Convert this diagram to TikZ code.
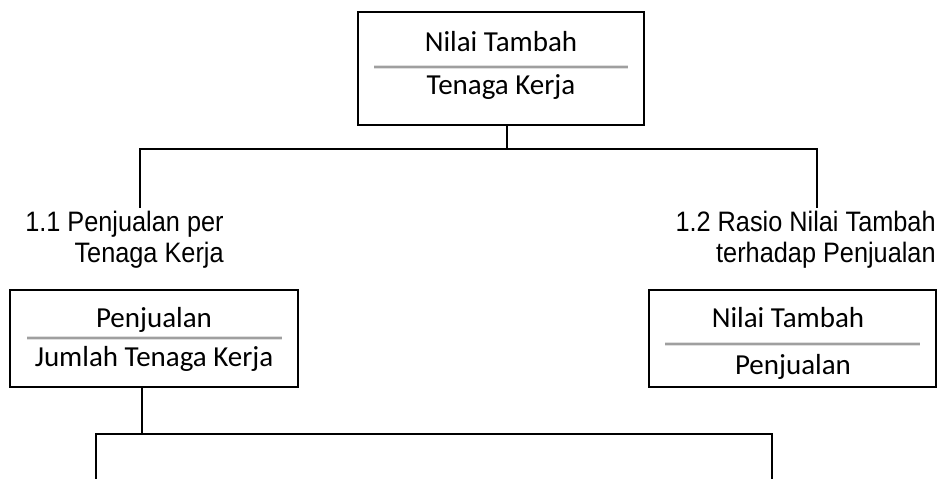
\documentclass[tikz,border=0pt]{standalone}
\usepackage{fontspec}
\newfontfamily\boxfont{Carlito}
\newfontfamily\lblfont[FakeStretch=0.9]{Liberation Sans}

\tikzset{
    box/.style={draw, line width=1.1pt, rectangle, inner sep=0pt},
    boxtext/.style={font=\boxfont\fontsize{16.5}{19}\selectfont, inner sep=0pt, anchor=base},
    fracline/.style={draw=gray!75, line width=1pt, preaction={draw=gray!25, line width=2.6pt}},
    lbl/.style={font=\lblfont\fontsize{16}{17.6}\selectfont, align=right, inner sep=0pt, anchor=north east},
    conn/.style={line width=1.1pt},
}

\begin{document}
\begin{tikzpicture}[x=0.02cm, y=-0.02cm]
            \useasboundingbox (0,0) rectangle (943,479);

            % top ratio
            \node[box, minimum width=5.72cm, minimum height=2.26cm] (nt) at (501,68.5) {};
            \draw[fracline] (374,67) -- (628,67);
            \node[boxtext] (nt-num) at (501,52) {Nilai Tambah};
            \node[boxtext] (nt-den) at (501,95) {Tenaga Kerja};

            % branch labels
            \node[lbl] (lbl1) at (224,211) {1.1 Penjualan per\\Tenaga Kerja};
            \node[lbl] (lbl2) at (936,211) {1.2 Rasio Nilai Tambah\\terhadap Penjualan};

            % left ratio
            \node[box, minimum width=5.76cm, minimum height=1.94cm] (pj) at (154,338.5) {};
            \draw[fracline] (27,338) -- (282,338);
            \node[boxtext] (pj-num) at (154,328) {Penjualan};
            \node[boxtext] (pj-den) at (154,367) {Jumlah Tenaga Kerja};

            % right ratio
            \node[box, minimum width=5.74cm, minimum height=1.94cm] (rnt) at (792.5,338.5) {};
            \draw[fracline] (665,344) -- (920,344);
            \node[boxtext] (rnt-num) at (788,328) {Nilai Tambah};
            \node[boxtext] (rnt-den) at (793,375) {Penjualan};

            % connectors
            \coordinate (top-j) at (507,149);
            \coordinate (left-j) at (140,149);
            \coordinate (right-j) at (817,149);
            \coordinate (left-e) at (140,208);
            \coordinate (right-e) at (817,208);
            \draw[conn] (nt.south -| top-j) -- (top-j);
            \draw[conn] (left-e) -- (left-j) -- (right-j) -- (right-e);

            \coordinate (pj-j) at (142,434);
            \coordinate (sub-l) at (96,434);
            \coordinate (sub-r) at (772,434);
            \coordinate (bottom) at (0,479);
            \draw[conn] (pj.south -| pj-j) -- (pj-j);
            \draw[conn] (sub-l |- bottom) -- (sub-l) -- (sub-r) -- (sub-r |- bottom);
\end{tikzpicture}
\end{document}
